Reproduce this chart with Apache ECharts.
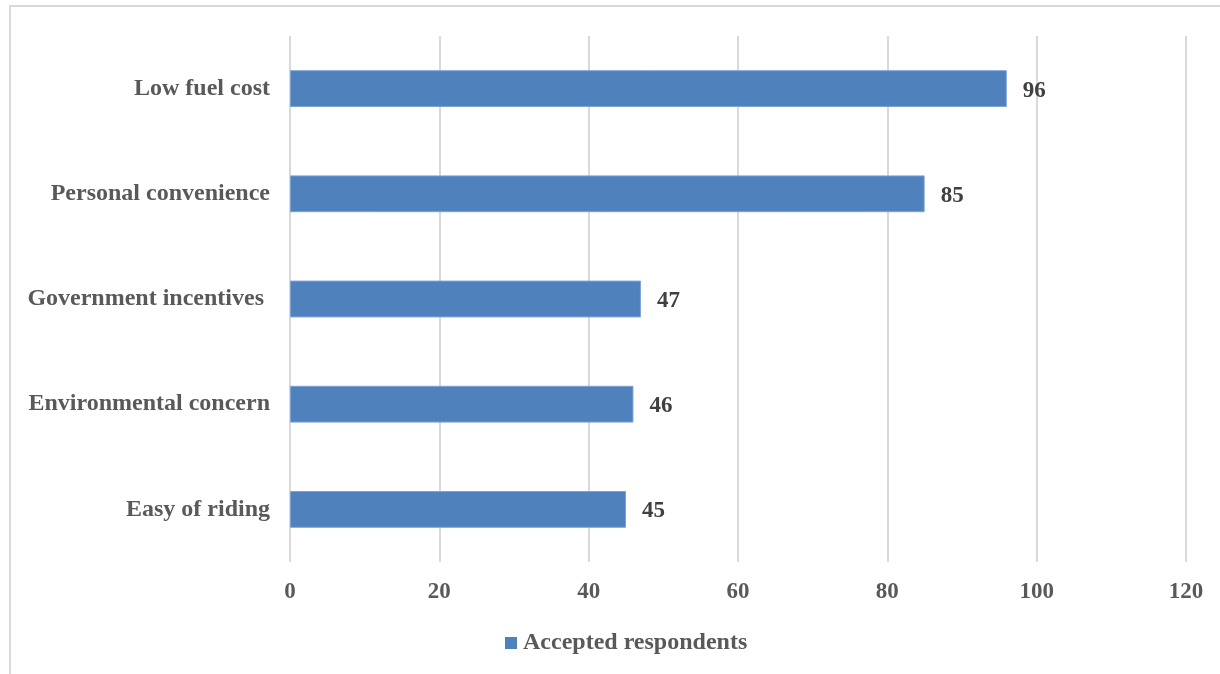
<!DOCTYPE html>
<html>
<head>
<meta charset="utf-8">
<style>
  html, body { margin: 0; padding: 0; background: #fff; }
  #chart { width: 1220px; height: 674px; }
</style>
<script src="https://cdn.jsdelivr.net/npm/echarts@6/dist/echarts.min.js"></script>
</head>
<body>
<div id="chart"></div>
<script>
// Reasons for choosing the vehicle, listed bottom to top
const categories = ['Easy of riding', 'Environmental concern', 'Government incentives ', 'Personal convenience', 'Low fuel cost'];
const accepted = [45, 46, 47, 85, 96];
const seriesName = 'Accepted respondents';
const axisTicks = [0, 20, 40, 60, 80, 100, 120];

const serif = '"Liberation Serif", "Times New Roman", serif';
const chart = echarts.init(document.getElementById('chart'));

chart.setOption({
  animation: false,
  backgroundColor: '#ffffff',
  graphic: [{
    type: 'rect',
    shape: { x: 10, y: 6, width: 1230, height: 700 },
    style: { fill: 'none', stroke: '#d9d9d9', lineWidth: 2 },
    silent: true
  }],
  grid: { left: 290, right: 34, top: 36, bottom: 112, containLabel: false },
  legend: {
    bottom: 14,
    left: 500,
    itemWidth: 12,
    itemHeight: 12,
    itemGap: 6,
    icon: 'rect',
    itemStyle: { borderWidth: 0 },
    textStyle: { fontFamily: serif, fontWeight: 'bold', fontSize: 24, color: '#595959', padding: [0, 0, 0, 1] },
    data: [seriesName]
  },
  xAxis: {
    type: 'value',
    min: axisTicks[0],
    max: axisTicks[axisTicks.length - 1],
    interval: axisTicks[1] - axisTicks[0],
    axisLine: { show: false },
    axisTick: { show: false },
    splitLine: { lineStyle: { color: '#d9d9d9', width: 2 } },
    axisLabel: { fontFamily: serif, fontWeight: 'bold', fontSize: 23, color: '#595959', margin: 19 }
  },
  yAxis: {
    type: 'category',
    data: categories,
    axisLine: { show: false },
    axisTick: { show: false },
    axisLabel: { fontFamily: serif, fontWeight: 'bold', fontSize: 24, color: '#595959', margin: 20 }
  },
  series: [{
    name: seriesName,
    type: 'bar',
    data: accepted,
    barCategoryGap: '65%',
    itemStyle: { color: '#4f81bd', borderColor: '#7da3d6', borderWidth: 1 },
    label: {
      show: true,
      position: 'right',
      distance: 16,
      offset: [0, 2],
      fontFamily: serif,
      fontWeight: 'bold',
      fontSize: 23,
      color: '#404040'
    }
  }]
});
</script>
</body>
</html>
